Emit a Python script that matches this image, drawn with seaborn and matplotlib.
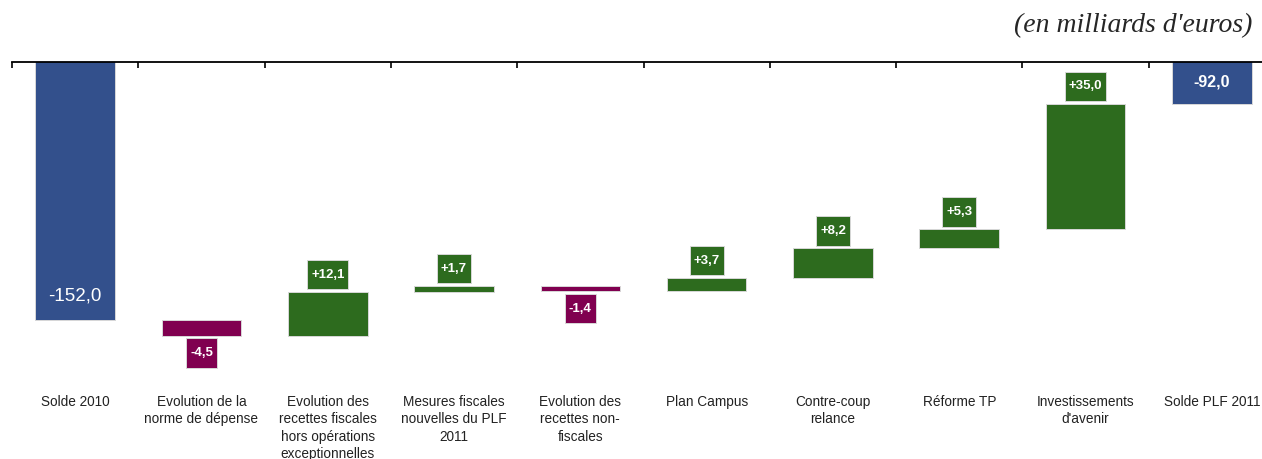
import numpy as np
import matplotlib
matplotlib.use("Agg")
import matplotlib.pyplot as plt
from matplotlib.path import Path
import seaborn as sns

categories = [
    "Solde 2010",
    "Evolution de la\nnorme de dépense",
    "Evolution des\nrecettes fiscales\nhors opérations\nexceptionnelles",
    "Mesures fiscales\nnouvelles du PLF\n2011",
    "Evolution des\nrecettes non-\nfiscales",
    "Plan Campus",
    "Contre-coup\nrelance",
    "Réforme TP",
    "Investissements\nd'avenir",
    "Solde PLF 2011",
]
deltas = [-152.0, -4.5, 12.1, 1.7, -1.4, 3.7, 8.2, 5.3, 35.0, -92.0]
is_total = [True, False, False, False, False, False, False, False, False, True]

BLUE = "#33508c"
PURPLE = "#800050"
GREEN = "#2d6b1e"

sns.set_style("white")
plt.rcParams["font.family"] = ["Liberation Sans", "DejaVu Sans"]


def tall_box(x0, y0, width, height, mutation_size):
    # box with less padding on the sides than above/below
    px = 0.3 * mutation_size
    py = 0.65 * mutation_size
    x0, y0 = x0 - px, y0 - py
    x1, y1 = x0 + width + 2 * px, y0 + height + 2 * py
    return Path([(x0, y0), (x1, y0), (x1, y1), (x0, y1), (x0, y0)], closed=True)


W, H = 1262, 459
fig = plt.figure(figsize=(W / 100, H / 100), dpi=100)
ax = fig.add_axes([12 / W, 1 - 391 / H, 1263 / W, (391 - 62) / H])

x = np.arange(len(categories))
bottoms, heights, colors = [], [], []
running = 0.0
for d, tot in zip(deltas, is_total):
    if tot:
        bottoms.append(0.0)
        heights.append(d)
        colors.append(BLUE)
        running = d
    else:
        bottoms.append(running)
        heights.append(d)
        colors.append(GREEN if d > 0 else PURPLE)
        running += d

ax.bar(x, heights, bottom=bottoms, width=0.63, color=colors,
       edgecolor="#d8d8d8", linewidth=0.7, zorder=2)

ax.set_xlim(-0.5, len(categories) - 0.5)
ax.set_ylim(-171.9, -80.3)

# value labels
for i, (b, h, tot, c) in enumerate(zip(bottoms, heights, is_total, colors)):
    end = b + h
    if tot:
        txt = f"{h:.1f}".replace(".", ",")
        big = abs(h) > 100
        ax.annotate(txt, (i, end), xytext=(0, 17 if big else 15.5),
                    textcoords="offset points", ha="center", va="center",
                    color="white", fontsize=13.5 if big else 11.5,
                    fontweight="normal" if big else "bold", zorder=3)
    else:
        txt = f"{h:+.1f}".replace(".", ",")
        if h > 0:
            pos, off = max(b, end), 12.5
        else:
            pos, off = min(b, end), -12.5
        ax.annotate(txt, (i, pos), xytext=(0, off), textcoords="offset points",
                    ha="center", va="center", color="white", fontsize=9.5,
                    fontweight="bold", zorder=3,
                    bbox=dict(boxstyle=tall_box, fc=c, ec="#d8d8d8", lw=0.7))

# axis line on top with boundary ticks
for s in ["left", "right", "bottom"]:
    ax.spines[s].set_visible(False)
ax.spines["top"].set_visible(True)
ax.spines["top"].set_color("black")
ax.spines["top"].set_linewidth(1.3)
ax.set_yticks([])

ax.set_xticks(x)
ax.set_xticklabels(categories, fontsize=9.8, color="#222222", linespacing=1.3,
                   va="top")
ax.tick_params(axis="x", which="major", length=0, pad=3, bottom=True, top=False)
ax.set_xticks(np.arange(-0.5, len(categories) + 0.5, 1), minor=True)
ax.tick_params(axis="x", which="minor", top=True, bottom=False, direction="in",
               length=4, width=1.2, color="black")

fig.text(1252 / W, 1 - 26 / H, "(en milliards d'euros)", ha="right", va="center",
         fontsize=20, style="italic", family=["Liberation Serif", "DejaVu Serif"])

fig.savefig("out.png", dpi=100)
